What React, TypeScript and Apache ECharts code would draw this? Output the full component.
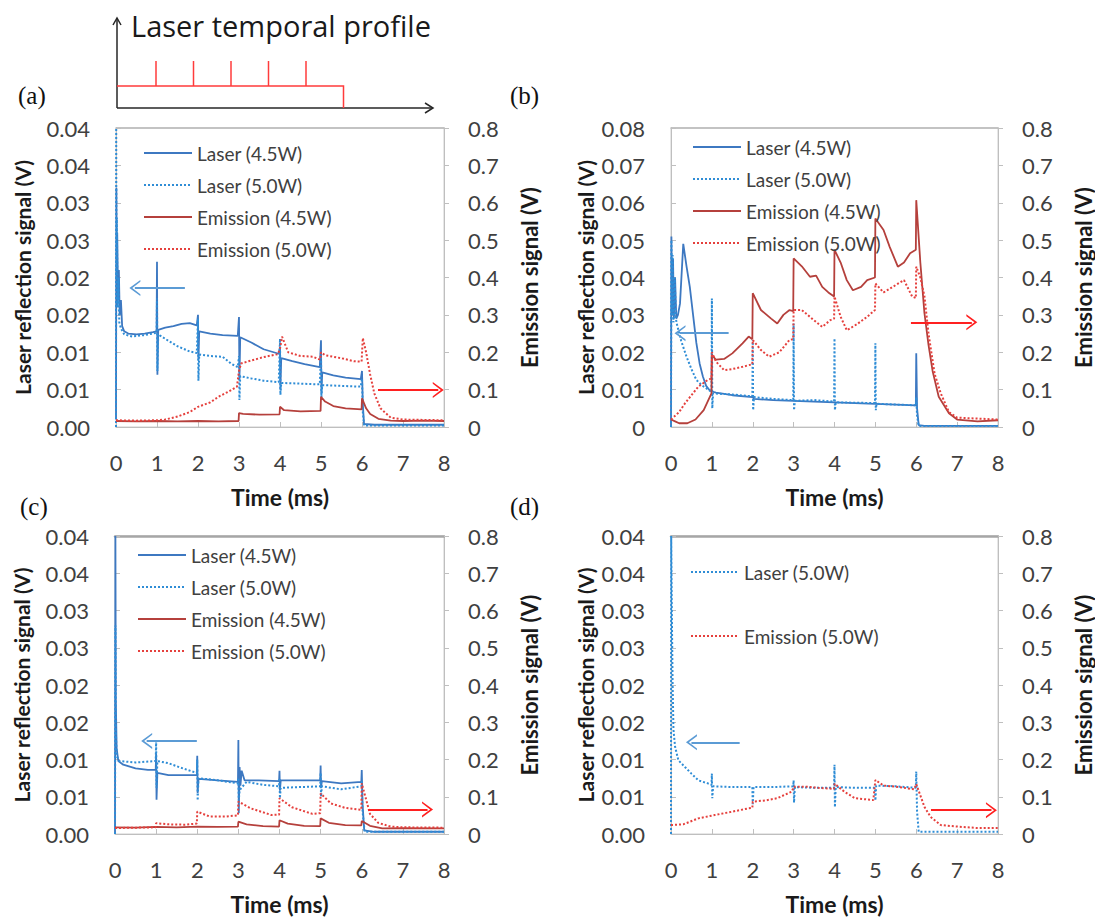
import React, { useEffect, useRef } from "react";
import * as echarts from "echarts";

// ---------------- DATA ----------------
// time (ms) / value pairs
const A_L45: [number, number][] = [[0,0.001],[0.01,0.032],[0.02,0.02],[0.03,0.026],[0.05,0.017],[0.07,0.021],[0.09,0.015],[0.12,0.017],[0.15,0.0135],[0.2,0.0128],[0.3,0.0125],[0.5,0.0124],[0.7,0.0125],[0.9,0.0127],[0.99,0.0128],[1.0,0.0221],[1.01,0.007],[1.03,0.013],[1.2,0.0133],[1.4,0.0135],[1.6,0.0138],[1.8,0.0139],[1.97,0.0136],[2.0,0.015],[2.01,0.009],[2.03,0.0128],[2.3,0.0125],[2.6,0.0123],[2.97,0.0122],[3.0,0.0147],[3.01,0.0063],[3.03,0.012],[3.3,0.0113],[3.6,0.0104],[3.97,0.0098],[4.0,0.0107],[4.01,0.005],[4.03,0.0092],[4.3,0.0088],[4.6,0.0084],[4.97,0.008],[5.0,0.0116],[5.01,0.0045],[5.03,0.0073],[5.3,0.0069],[5.6,0.0066],[5.97,0.0064],[6.0,0.0075],[6.02,0.003],[6.05,0.0004],[6.3,0.0003],[7,0.0003],[8,0.0003]];
const A_L50: [number, number][] = [[0,0],[0.005,0.04],[0.01,0.02],[0.02,0.028],[0.04,0.016],[0.06,0.02],[0.08,0.014],[0.12,0.0132],[0.2,0.0124],[0.4,0.0121],[0.7,0.0123],[0.99,0.0126],[1.0,0.0172],[1.01,0.0075],[1.03,0.0124],[1.2,0.0118],[1.5,0.0108],[1.8,0.0101],[1.97,0.0099],[2.0,0.0145],[2.01,0.0062],[2.03,0.0097],[2.3,0.0095],[2.6,0.0094],[2.8,0.0085],[2.97,0.008],[3.0,0.0095],[3.01,0.0036],[3.03,0.0068],[3.3,0.0065],[3.6,0.0062],[3.97,0.006],[4.0,0.0118],[4.01,0.0043],[4.03,0.0059],[4.5,0.0058],[4.97,0.0057],[5.0,0.0095],[5.01,0.004],[5.03,0.0056],[5.5,0.0055],[5.97,0.0054],[6.0,0.0065],[6.02,0.002],[6.05,0.0002],[8,0.0002]];
const A_E45: [number, number][] = [[0,0.016],[0.5,0.015],[1,0.016],[1.5,0.015],[2,0.016],[2.5,0.015],[2.99,0.016],[3.0,0.037],[3.1,0.035],[3.5,0.033],[3.99,0.034],[4.0,0.054],[4.1,0.045],[4.5,0.042],[4.99,0.043],[5.0,0.081],[5.1,0.068],[5.3,0.056],[5.6,0.05],[5.99,0.047],[6.0,0.077],[6.1,0.05],[6.2,0.035],[6.4,0.022],[6.7,0.017],[7,0.016],[7.5,0.017],[8,0.016]];
const A_E50: [number, number][] = [[0,0.018],[0.5,0.017],[1,0.018],[1.2,0.02],[1.5,0.028],[1.8,0.04],[2.0,0.054],[2.3,0.066],[2.5,0.081],[2.75,0.095],[2.95,0.108],[3.0,0.15],[3.05,0.17],[3.3,0.178],[3.6,0.187],[3.95,0.195],[4.0,0.21],[4.05,0.2415],[4.2,0.2],[4.5,0.19],[4.8,0.188],[4.98,0.18],[5.0,0.2],[5.1,0.192],[5.5,0.184],[5.8,0.176],[5.99,0.175],[6.02,0.238],[6.1,0.2],[6.2,0.14],[6.3,0.09],[6.45,0.05],[6.7,0.025],[7,0.02],[8,0.018]];

const B_L45: [number, number][] = [[0,0],[0.01,0.051],[0.03,0.03],[0.05,0.045],[0.07,0.029],[0.1,0.04],[0.13,0.029],[0.17,0.03],[0.22,0.033],[0.3,0.049],[0.38,0.043],[0.46,0.0375],[0.54,0.03],[0.62,0.0225],[0.7,0.017],[0.78,0.0135],[0.86,0.011],[0.94,0.0099],[1.0,0.0095],[1.1,0.0092],[1.5,0.0085],[1.99,0.008],[2.0,0.0085],[2.02,0.0075],[2.5,0.0072],[3,0.007],[3.5,0.0068],[4,0.0066],[4.5,0.0064],[5,0.0062],[5.5,0.006],[5.99,0.0058],[6.0,0.0197],[6.02,0.005],[6.06,0.0005],[6.2,0.0003],[8,0.0003]];
const B_L50: [number, number][] = [[0,0],[0.01,0.05],[0.02,0.03],[0.04,0.046],[0.06,0.028],[0.09,0.04],[0.12,0.029],[0.14,0.0277],[0.25,0.023],[0.38,0.0188],[0.5,0.0155],[0.62,0.0126],[0.75,0.0112],[0.86,0.0104],[0.99,0.0094],[1.0,0.0344],[1.01,0.005],[1.03,0.009],[1.5,0.0087],[1.99,0.0082],[2.0,0.0233],[2.01,0.0045],[2.03,0.008],[2.5,0.0075],[2.99,0.0072],[3.0,0.0277],[3.01,0.0045],[3.03,0.007],[3.5,0.0072],[3.99,0.0068],[4.0,0.0237],[4.01,0.0045],[4.03,0.0066],[4.5,0.0065],[4.99,0.0064],[5.0,0.0224],[5.01,0.0045],[5.03,0.0062],[5.5,0.006],[5.99,0.0058],[6.0,0.008],[6.02,0.003],[6.06,0.0003],[8,0.0003]];
const B_E45: [number, number][] = [[0,0.02],[0.1,0.015],[0.2,0.01],[0.4,0.01],[0.6,0.02],[0.8,0.045],[0.99,0.09],[1.0,0.193],[1.1,0.18],[1.3,0.182],[1.5,0.197],[1.75,0.224],[1.9,0.242],[1.99,0.235],[2.0,0.358],[2.2,0.313],[2.45,0.29],[2.6,0.277],[2.75,0.3],[2.9,0.313],[2.99,0.31],[3.0,0.451],[3.2,0.43],[3.4,0.402],[3.55,0.405],[3.7,0.375],[3.85,0.36],[3.99,0.349],[4.0,0.474],[4.15,0.44],[4.3,0.393],[4.45,0.366],[4.65,0.375],[4.8,0.393],[4.99,0.4],[5.0,0.558],[5.2,0.527],[5.35,0.482],[5.55,0.429],[5.7,0.44],[5.85,0.465],[5.99,0.474],[6.0,0.607],[6.1,0.44],[6.2,0.305],[6.3,0.22],[6.4,0.15],[6.55,0.081],[6.8,0.037],[7.0,0.02],[7.5,0.015],[8,0.018]];
const B_E50: [number, number][] = [[0,0.02],[0.2,0.04],[0.34,0.063],[0.5,0.085],[0.67,0.108],[0.9,0.126],[0.99,0.13],[1.0,0.2],[1.1,0.175],[1.3,0.152],[1.5,0.155],[1.75,0.161],[1.99,0.168],[2.0,0.233],[2.2,0.206],[2.4,0.188],[2.65,0.2],[2.9,0.233],[2.99,0.235],[3.0,0.313],[3.2,0.313],[3.45,0.29],[3.7,0.268],[3.9,0.286],[3.99,0.29],[4.0,0.349],[4.15,0.295],[4.3,0.259],[4.55,0.275],[4.8,0.295],[4.99,0.313],[5.0,0.384],[5.2,0.36],[5.5,0.38],[5.7,0.393],[5.9,0.349],[5.99,0.345],[6.0,0.429],[6.1,0.4],[6.2,0.35],[6.3,0.25],[6.45,0.142],[6.6,0.09],[6.8,0.04],[7.0,0.025],[8,0.02]];

const C_L45: [number, number][] = [[0,0],[0.01,0.04],[0.02,0.018],[0.04,0.0115],[0.08,0.0098],[0.2,0.0093],[0.5,0.0088],[0.8,0.0086],[0.99,0.0086],[1.0,0.0108],[1.01,0.0046],[1.03,0.0082],[1.3,0.0079],[1.7,0.0079],[1.99,0.0079],[2.0,0.0105],[2.01,0.0055],[2.03,0.0074],[2.5,0.0072],[2.99,0.007],[3.0,0.0126],[3.01,0.0028],[3.03,0.009],[3.05,0.0065],[3.08,0.0085],[3.15,0.0072],[3.5,0.0072],[3.99,0.0071],[4.0,0.0085],[4.01,0.0058],[4.03,0.0072],[4.5,0.0072],[4.99,0.0072],[5.0,0.0092],[5.01,0.0062],[5.03,0.0071],[5.5,0.0068],[5.99,0.007],[6.0,0.0086],[6.02,0.004],[6.06,0.0005],[6.3,0.0003],[8,0.0003]];
const C_L50: [number, number][] = [[0,0],[0.01,0.028],[0.02,0.014],[0.04,0.0105],[0.1,0.0098],[0.5,0.0096],[0.99,0.0098],[1.0,0.0125],[1.01,0.0062],[1.03,0.0098],[1.3,0.0095],[1.6,0.0089],[1.99,0.0082],[2.0,0.01],[2.01,0.0045],[2.03,0.0075],[2.5,0.0072],[2.99,0.0068],[3.0,0.0075],[3.01,0.0045],[3.03,0.0059],[3.2,0.007],[3.6,0.0066],[3.99,0.0064],[4.0,0.0075],[4.01,0.0048],[4.03,0.0062],[4.5,0.0063],[4.99,0.0064],[5.0,0.0082],[5.01,0.005],[5.03,0.0064],[5.5,0.006],[5.99,0.0064],[6.0,0.0072],[6.02,0.003],[6.07,0.0003],[8,0.0003]];
const C_E45: [number, number][] = [[0,0.018],[0.5,0.017],[1,0.019],[1.5,0.018],[2,0.02],[2.5,0.019],[2.99,0.02],[3.0,0.033],[3.2,0.026],[3.6,0.021],[3.99,0.02],[4.0,0.037],[4.2,0.028],[4.6,0.022],[4.99,0.021],[5.0,0.042],[5.2,0.03],[5.6,0.024],[5.99,0.023],[6.0,0.035],[6.2,0.022],[6.5,0.015],[7,0.016],[8,0.015]];
const C_E50: [number, number][] = [[0,0.016],[0.5,0.017],[0.99,0.018],[1.0,0.029],[1.3,0.026],[1.7,0.025],[1.99,0.028],[2.0,0.06],[2.3,0.047],[2.7,0.047],[2.99,0.05],[3.0,0.087],[3.3,0.069],[3.8,0.051],[3.99,0.052],[4.0,0.096],[4.3,0.072],[4.8,0.054],[4.99,0.056],[5.0,0.109],[5.25,0.082],[5.6,0.07],[5.99,0.065],[6.0,0.136],[6.2,0.054],[6.4,0.03],[6.7,0.02],[7,0.018],[8,0.017]];

const D_L50: [number, number][] = [[0,0],[0.005,0.04],[0.02,0.03],[0.04,0.02],[0.06,0.014],[0.1,0.0117],[0.18,0.0099],[0.34,0.009],[0.5,0.0081],[0.67,0.0072],[0.9,0.0068],[0.99,0.0066],[1.0,0.0081],[1.01,0.0048],[1.03,0.0064],[1.5,0.0063],[1.99,0.0063],[2.0,0.004],[2.02,0.0063],[2.5,0.0063],[2.99,0.0064],[3.0,0.0072],[3.01,0.0042],[3.03,0.0063],[3.5,0.0062],[3.99,0.0062],[4.0,0.0093],[4.01,0.0036],[4.03,0.0063],[4.5,0.0062],[4.99,0.0062],[5.0,0.0045],[5.02,0.0065],[5.5,0.0064],[5.99,0.0062],[6.0,0.0084],[6.02,0.003],[6.06,0.0003],[8,0.0003]];
const D_E50: [number, number][] = [[0,0.024],[0.3,0.026],[0.67,0.042],[1.07,0.051],[1.5,0.06],[1.9,0.069],[1.99,0.07],[2.0,0.087],[2.3,0.09],[2.6,0.096],[2.96,0.114],[3.0,0.127],[3.3,0.127],[3.6,0.124],[3.99,0.121],[4.0,0.135],[4.25,0.113],[4.5,0.096],[4.95,0.091],[5.0,0.145],[5.2,0.13],[5.5,0.127],[5.95,0.12],[6.0,0.134],[6.2,0.073],[6.35,0.046],[6.6,0.024],[7.0,0.02],[7.5,0.016],[8,0.016]];

// tick labels
const X_TICKS = ["0", "1", "2", "3", "4", "5", "6", "7", "8"];
const LEFT_TICKS_004 = ["0.00", "0.01", "0.01", "0.02", "0.02", "0.03", "0.03", "0.04", "0.04"];
const LEFT_TICKS_008 = ["0", "0.01", "0.02", "0.03", "0.04", "0.05", "0.06", "0.07", "0.08"];
const RIGHT_TICKS = ["0", "0.1", "0.2", "0.3", "0.4", "0.5", "0.6", "0.7", "0.8"];

// pulse times in the laser temporal profile (ms)
const PULSE_TIMES = [1, 2, 3, 4, 5];
const PROFILE_END = 6;

// arrows [fromT, toT, value]
const ARROWS_BLUE: [number, number, number][] = [[1.68, 0.46, 0.0186], [1.41, 0.22, 0.0251], [1.99, 0.77, 0.0125], [1.68, 0.5, 0.0123]];
const ARROWS_RED: [number, number, number][] = [[6.39, 7.86, 0.099], [5.87, 7.36, 0.28], [6.16, 7.6, 0.066], [6.36, 7.84, 0.064]];

const NAMES = ["Laser (4.5W)", "Laser (5.0W)", "Emission (4.5W)", "Emission (5.0W)"];

// ---------------- STYLE ----------------
const FONT = 'Lato, "Open Sans", sans-serif';
const COL_L45 = "#3d78c1";
const COL_L50 = "#2f8dd6";
const COL_E45 = "#b5403c";
const COL_E50 = "#e5403d";
const ARROW_BLUE = "#5b9bd5";
const ARROW_RED = "#ff2020";
const CHEVRON = "path://M7,0 L14,9 L12.4,9 L7,2.4 L1.6,9 L0,9 Z";

const GRIDS = [
  { left: 116, top: 128, width: 328, height: 299 },
  { left: 671, top: 128, width: 328, height: 299 },
  { left: 115, top: 536, width: 329, height: 298 },
  { left: 671, top: 536, width: 328, height: 298 },
];

export default function App() {
  const ref = useRef<HTMLDivElement>(null);
  useEffect(() => {
    if (!ref.current) return;
    const chart = echarts.init(ref.current, undefined, { renderer: "svg" });

    const xAxes: any[] = GRIDS.map((_, i) => ({
      type: "value",
      gridIndex: i,
      min: 0,
      max: 8,
      interval: 1,
      name: "Time (ms)",
      nameLocation: "middle",
      nameGap: 58,
      nameTextStyle: { fontFamily: FONT, fontWeight: "bold", fontSize: 23, color: "#1a1a1a" },
      axisLine: { onZero: false, lineStyle: { color: "#bfbfbf", width: 1 } },
      axisTick: { show: true, inside: true, length: 5, lineStyle: { color: "#bfbfbf" } },
      axisLabel: { fontFamily: FONT, fontSize: 22, color: "#404040", margin: 24, formatter: (v: number) => X_TICKS[Math.round(v)] },
      splitLine: { show: false },
    }));
    // top frame line of each plot (darker grey, as in the reference)
    GRIDS.forEach((_, i) => {
      xAxes.push({
        type: "value",
        gridIndex: i,
        position: "top",
        min: 0,
        max: 8,
        interval: 1,
        axisLine: { show: true, onZero: false, lineStyle: { color: i >= 2 ? "#a6a6a6" : "#b8b8b8", width: i >= 2 ? 2.5 : 1.5 } },
        axisTick: { show: false },
        axisLabel: { show: false },
        splitLine: { show: false },
      });
    });

    const leftCfg = [
      { max: 0.04, interval: 0.005, labels: LEFT_TICKS_004, gap: 83 },
      { max: 0.08, interval: 0.01, labels: LEFT_TICKS_008, gap: 75 },
      { max: 0.04, interval: 0.005, labels: LEFT_TICKS_004, gap: 83 },
      { max: 0.04, interval: 0.005, labels: LEFT_TICKS_004, gap: 75 },
    ];
    const yAxes: any[] = [];
    GRIDS.forEach((_, i) => {
      const c = leftCfg[i];
      yAxes.push({
        type: "value",
        gridIndex: i,
        position: "left",
        min: 0,
        max: c.max,
        interval: c.interval,
        name: "Laser reflection signal (V)",
        nameLocation: "middle",
        nameGap: c.gap,
        nameTextStyle: { fontFamily: FONT, fontWeight: "bold", fontSize: 21, color: "#1a1a1a" },
        axisLine: { show: true, onZero: false, lineStyle: { color: "#bfbfbf" } },
        axisTick: { show: true, inside: true, length: 5, lineStyle: { color: "#bfbfbf" } },
        axisLabel: { fontFamily: FONT, fontSize: 22, color: "#404040", margin: 26, formatter: (v: number) => c.labels[Math.round(v / c.interval)] },
        splitLine: { show: false },
      });
      yAxes.push({
        type: "value",
        gridIndex: i,
        position: "right",
        min: 0,
        max: 0.8,
        interval: 0.1,
        name: "Emission signal (V)",
        nameLocation: "middle",
        nameGap: 74,
        nameTextStyle: { fontFamily: FONT, fontWeight: "bold", fontSize: 22, color: "#1a1a1a" },
        axisLine: { show: true, onZero: false, lineStyle: { color: "#bfbfbf" } },
        axisTick: { show: true, inside: false, length: 5, lineStyle: { color: "#bfbfbf" } },
        axisLabel: { fontFamily: FONT, fontSize: 22, color: "#404040", margin: 24, formatter: (v: number) => RIGHT_TICKS[Math.round(v / 0.1)] },
        splitLine: { show: false },
      });
    });

    const mkArrow = (a: [number, number, number], color: string) => ({
      silent: true,
      symbol: ["none", CHEVRON],
      symbolSize: [16, 11],
      label: { show: false },
      emphasis: { disabled: true },
      lineStyle: { color, width: 2, type: "solid" },
      data: [[{ coord: [a[0], a[2]] }, { coord: [a[1], a[2]] }]],
    });

    const line = (name: string, data: [number, number][], gi: number, right: boolean, color: string, dotted: boolean, markLine?: any) => ({
      type: "line",
      name,
      data,
      xAxisIndex: gi,
      yAxisIndex: gi * 2 + (right ? 1 : 0),
      symbol: "none",
      showSymbol: false,
      lineStyle: { color, width: dotted ? 2 : 1.8, type: dotted ? "dotted" : "solid" },
      itemStyle: { color },
      emphasis: { disabled: true },
      z: right ? 3 : 2,
      ...(markLine ? { markLine } : {}),
    });

    const series = [
      line(NAMES[0], A_L45, 0, false, COL_L45, false, mkArrow(ARROWS_BLUE[0], ARROW_BLUE)),
      line(NAMES[1], A_L50, 0, false, COL_L50, true),
      line(NAMES[2], A_E45, 0, true, COL_E45, false, mkArrow(ARROWS_RED[0], ARROW_RED)),
      line(NAMES[3], A_E50, 0, true, COL_E50, true),
      line(NAMES[0], B_L45, 1, false, COL_L45, false, mkArrow(ARROWS_BLUE[1], ARROW_BLUE)),
      line(NAMES[1], B_L50, 1, false, COL_L50, true),
      line(NAMES[2], B_E45, 1, true, COL_E45, false, mkArrow(ARROWS_RED[1], ARROW_RED)),
      line(NAMES[3], B_E50, 1, true, COL_E50, true),
      line(NAMES[0], C_L45, 2, false, COL_L45, false, mkArrow(ARROWS_BLUE[2], ARROW_BLUE)),
      line(NAMES[1], C_L50, 2, false, COL_L50, true),
      line(NAMES[2], C_E45, 2, true, COL_E45, false, mkArrow(ARROWS_RED[2], ARROW_RED)),
      line(NAMES[3], C_E50, 2, true, COL_E50, true),
      line(NAMES[1], D_L50, 3, false, COL_L50, true, mkArrow(ARROWS_BLUE[3], ARROW_BLUE)),
      line(NAMES[3], D_E50, 3, true, COL_E50, true, mkArrow(ARROWS_RED[3], ARROW_RED)),
    ];

    const legendBase = {
      orient: "vertical",
      itemWidth: 48,
      itemHeight: 14,
      padding: 0,
      selectedMode: false,
      itemStyle: { opacity: 0, borderWidth: 0 },
      textStyle: { fontFamily: FONT, fontSize: 19, color: "#404040", lineHeight: 20 },
    };
    const legends = [
      { ...legendBase, left: 143, top: 143, itemGap: 12, data: NAMES },
      { ...legendBase, left: 692, top: 137, itemGap: 12, data: NAMES },
      { ...legendBase, left: 137, top: 545, itemGap: 12, data: NAMES },
      { ...legendBase, left: 690, top: 562, itemGap: 44, data: [NAMES[1], NAMES[3]] },
    ];

    // laser temporal profile schematic (pixel layout of the sketch)
    const px0 = 117, px1 = 433, pyBase = 108, pyTop = 18, pyFlat = 86, pySpike = 61;
    const tx = (t: number) => 118.5 + 37.5 * t;
    const profilePts = [[px0, pyFlat], [tx(PROFILE_END), pyFlat], [tx(PROFILE_END), pyBase]];
    const graphics: any[] = [
      { type: "line", shape: { x1: px0, y1: pyBase, x2: px0, y2: pyTop }, style: { stroke: "#262626", lineWidth: 1.5 } },
      { type: "polyline", shape: { points: [[px0 - 4, pyTop + 7], [px0, pyTop], [px0 + 4, pyTop + 7]] }, style: { stroke: "#262626", lineWidth: 1.5, fill: null } },
      { type: "line", shape: { x1: px0, y1: pyBase, x2: px1, y2: pyBase }, style: { stroke: "#262626", lineWidth: 1.5 } },
      { type: "polyline", shape: { points: [[px1 - 8, pyBase - 5], [px1, pyBase], [px1 - 8, pyBase + 5]] }, style: { stroke: "#262626", lineWidth: 1.5, fill: null } },
      { type: "polyline", shape: { points: profilePts }, style: { stroke: "#ff3b3b", lineWidth: 1.5, fill: null } },
      ...PULSE_TIMES.map((t) => ({
        type: "line",
        shape: { x1: tx(t), y1: pyFlat, x2: tx(t), y2: pySpike },
        style: { stroke: "#ff3b3b", lineWidth: 1.5 },
      })),
      { type: "text", left: 131, top: 11, style: { text: "Laser temporal profile", font: `29px "Open Sans", ${FONT}`, fill: "#1a1a1a" } },
      { type: "text", left: 18, top: 83, style: { text: "(a)", font: '25px "Liberation Serif", serif', fill: "#111" } },
      { type: "text", left: 510, top: 83, style: { text: "(b)", font: '25px "Liberation Serif", serif', fill: "#111" } },
      { type: "text", left: 20, top: 494, style: { text: "(c)", font: '25px "Liberation Serif", serif', fill: "#111" } },
      { type: "text", left: 510, top: 494, style: { text: "(d)", font: '25px "Liberation Serif", serif', fill: "#111" } },
    ];

    chart.setOption({
      animation: false,
      backgroundColor: "#ffffff",
      grid: GRIDS.map((g) => ({ ...g, show: true, borderColor: "#cfcfcf", borderWidth: 1, backgroundColor: "transparent" })),
      xAxis: xAxes,
      yAxis: yAxes,
      legend: legends,
      series,
      graphic: graphics,
    });
    return () => chart.dispose();
  }, []);

  return <div ref={ref} style={{ position: "absolute", left: 0, top: 0, width: 1095, height: 918, background: "#fff" }} />;
}
